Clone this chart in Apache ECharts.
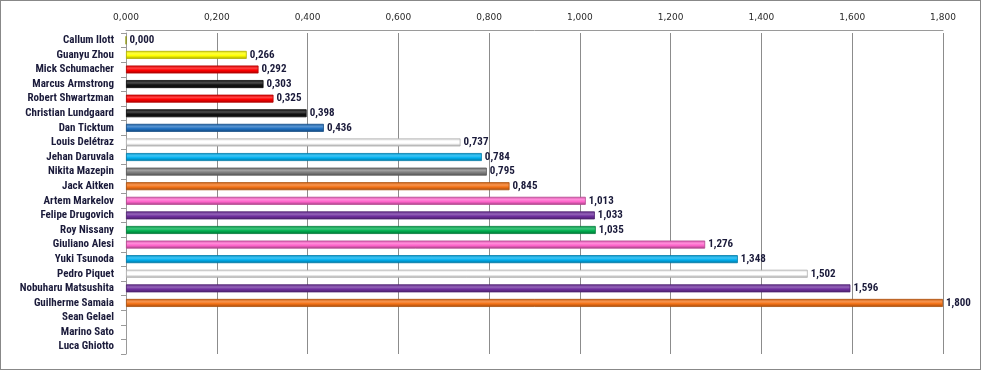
<!DOCTYPE html>
<html><head><meta charset="utf-8">
<script src="https://cdn.jsdelivr.net/npm/echarts@6/dist/echarts.min.js"></script>
<style>html,body{margin:0;padding:0;background:#fff}#c{width:981px;height:370px;box-sizing:border-box;border:1px solid #888}</style>
</head><body><div id="c"></div>
<script>
const categories = ["Callum Ilott","Guanyu Zhou","Mick Schumacher","Marcus Armstrong","Robert Shwartzman","Christian Lundgaard","Dan Ticktum","Louis Delétraz","Jehan Daruvala","Nikita Mazepin","Jack Aitken","Artem Markelov","Felipe Drugovich","Roy Nissany","Giuliano Alesi","Yuki Tsunoda","Pedro Piquet","Nobuharu Matsushita","Guilherme Samaia","Sean Gelael","Marino Sato","Luca Ghiotto"];
const values = [0.000,0.266,0.292,0.303,0.325,0.398,0.436,0.737,0.784,0.795,0.845,1.013,1.033,1.035,1.276,1.348,1.502,1.596,1.800,null,null,null];
const barColors = ["#c8d400","#ffff00","#ff0000","#111111","#ff0000","#111111","#1f70c1","#ffffff","#00b0f0","#7f7f7f","#f47216","#ff66cc","#7030a0","#00b050","#ff66cc","#00b0f0","#ffffff","#7030a0","#f47216","#000","#000","#000"];
const tickMin = 0, tickMax = 1.8, tickStep = 0.2;

function shade(hex, f){
  const n = parseInt(hex.slice(1),16);
  let r=(n>>16)&255,g=(n>>8)&255,b=n&255;
  if(f<0){r=Math.round(r*(1+f));g=Math.round(g*(1+f));b=Math.round(b*(1+f));}
  else{r=Math.round(r+(255-r)*f);g=Math.round(g+(255-g)*f);b=Math.round(b+(255-b)*f);}
  return 'rgb('+r+','+g+','+b+')';
}
const fmt = v => v.toFixed(3).replace('.', ',');
const FONT = 'Liberation Sans Narrow, Roboto Condensed, Roboto';
const chart = echarts.init(document.getElementById('c'));
chart.setOption({
  animation:false,
  backgroundColor:'#fff',
  grid:{left:125,right:37,top:32,bottom:15,containLabel:false},
  xAxis:{type:'value',position:'top',min:tickMin,max:tickMax,interval:tickStep,offset:3,
    axisLine:{show:true,lineStyle:{color:'#9a9a9a',width:1}},
    axisTick:{show:false},
    splitLine:{show:true,lineStyle:{color:'#8c8c8c',width:1}},
    axisLabel:{formatter:fmt,color:'#2a2a2a',fontFamily:'DejaVu Sans',fontSize:9,margin:8}},
  yAxis:{type:'category',inverse:true,data:categories,
    axisLine:{show:true,lineStyle:{color:'#9a9a9a'}},
    axisTick:{show:true,length:5,lineStyle:{color:'#9a9a9a'}},
    axisLabel:{interval:0,hideOverlap:false,color:'#1a1a3a',fontWeight:'bold',fontSize:11,fontFamily:FONT,margin:12}},
  series:[{type:'bar',barWidth:8,
    data:values.map((v,i)=>({value:v,itemStyle:{
      color:new echarts.graphic.LinearGradient(0,0,0,1,[
        {offset:0,color:shade(barColors[i],-0.15)},
        {offset:0.35,color:shade(barColors[i],0.25)},
        {offset:0.6,color:barColors[i]},
        {offset:1,color:shade(barColors[i],-0.35)}]),
      borderColor:barColors[i]==='#ffffff'?'#b0b0b0':shade(barColors[i],-0.3),borderWidth:0.8}})),
    label:{show:true,position:'right',distance:3,formatter:p=>p.value==null?'':fmt(p.value),
      color:'#1a1a3a',fontWeight:'bold',fontSize:11,fontFamily:FONT}}]
});
</script></body></html>
